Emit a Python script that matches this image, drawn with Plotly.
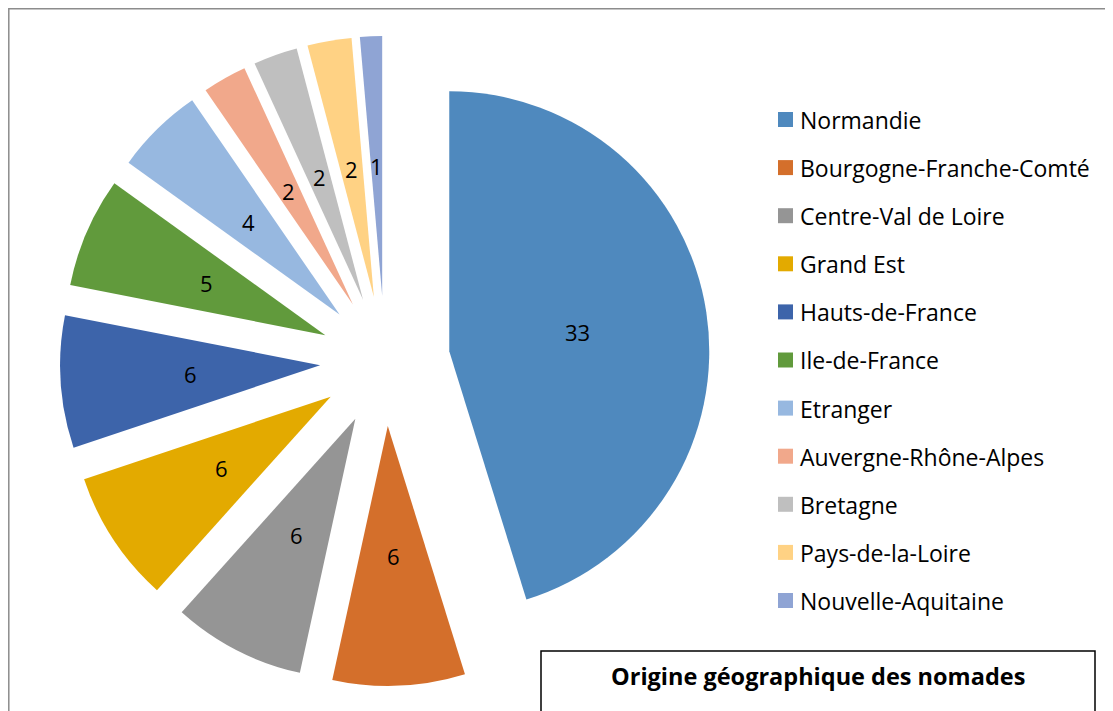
import math
import plotly.graph_objects as go

# ---------------- data ----------------
labels = ["Normandie", "Bourgogne-Franche-Comté", "Centre-Val de Loire", "Grand Est",
          "Hauts-de-France", "Ile-de-France", "Etranger", "Auvergne-Rhône-Alpes",
          "Bretagne", "Pays-de-la-Loire", "Nouvelle-Aquitaine"]
values = [33, 6, 6, 6, 6, 5, 4, 2, 2, 2, 1]
colors = ["#4F89BE", "#D46F2B", "#959595", "#E3AA00", "#3D64AA", "#619A3C",
          "#97B8E0", "#F1A88B", "#BFBFBF", "#FFD284", "#8FA4D4"]
title_text = "Origine géographique des nomades"

# ---------------- layout constants ----------------
OFF = 8                      # page body margin
W, H = 1113 - OFF, 711 - OFF  # figure size


def fx(px):   # page pixel x -> paper
    return (px - OFF) / W


def fy(py):   # page pixel y -> paper
    return 1 - (py - OFF) / H


PULL = 0.25
CXP, CYP, HALF = 385, 361, 325
dom_x = [fx(CXP - HALF), fx(CXP + HALF)]
dom_y = [fy(CYP + HALF), fy(CYP - HALF)]

fig = go.Figure()
fig.add_trace(go.Pie(
    labels=labels, values=values, sort=False, direction="clockwise", rotation=0,
    pull=[PULL] * len(values),
    marker=dict(colors=colors, line=dict(width=0)),
    textinfo="none", hoverinfo="label+value",
    domain=dict(x=dom_x, y=dom_y), showlegend=False,
))

# pie geometry as plotly computes it (figure pixels)
box_w = W * (dom_x[1] - dom_x[0])
box_h = H * (dom_y[1] - dom_y[0])
r = min(box_w, box_h) / 2 / (1 + PULL)
cx = W * (dom_x[0] + dom_x[1]) / 2
cy = H * (1 - (dom_y[0] + dom_y[1]) / 2)

annotations = []
shapes = []
total = sum(values)
cum = 0
for v in values:
    mid = (cum + v / 2) / total * 2 * math.pi
    cum += v
    k = r * (PULL + 0.5)
    px = cx + k * math.sin(mid)
    py = cy - k * math.cos(mid)
    annotations.append(dict(x=px / W, y=1 - py / H, xref="paper", yref="paper",
                            text=str(v), showarrow=False, xanchor="center", yanchor="middle",
                            font=dict(size=22, color="#000000", family="Open Sans")))

# legend (manual, to reproduce spacing)
leg_y0, leg_step = 119.5, 48.1
for i, (lab, col) in enumerate(zip(labels, colors)):
    yc = leg_y0 + i * leg_step
    shapes.append(dict(type="rect", xref="paper", yref="paper",
                       x0=fx(778), x1=fx(793), y0=fy(yc - 7.5), y1=fy(yc + 7.5),
                       fillcolor=col, line=dict(width=0)))
    annotations.append(dict(x=fx(798), y=fy(yc + 0.5), xref="paper", yref="paper",
                            text=lab, showarrow=False, xanchor="left", yanchor="middle",
                            font=dict(size=23, color="#000000", family="Open Sans")))

# title box
shapes.append(dict(type="rect", xref="paper", yref="paper",
                   x0=fx(541), x1=fx(1095), y0=-0.1, y1=fy(651),
                   line=dict(color="#000000", width=1.5), fillcolor="rgba(0,0,0,0)"))
annotations.append(dict(x=fx(818), y=fy(676), xref="paper", yref="paper",
                        text="<b>" + title_text + "</b>", showarrow=False,
                        xanchor="center", yanchor="middle",
                        font=dict(size=23.5, color="#000000", family="Open Sans")))
# outer chart border
shapes.append(dict(type="rect", xref="paper", yref="paper",
                   x0=fx(8.8), x1=1.05, y0=-0.05, y1=fy(8.8),
                   line=dict(color="#8C8C8C", width=1.5), fillcolor="rgba(0,0,0,0)"))

fig.update_layout(
    width=W, height=H, margin=dict(l=0, r=0, t=0, b=0),
    paper_bgcolor="white", plot_bgcolor="white",
    annotations=annotations, shapes=shapes, showlegend=False,
)
fig.write_html("out.html")
